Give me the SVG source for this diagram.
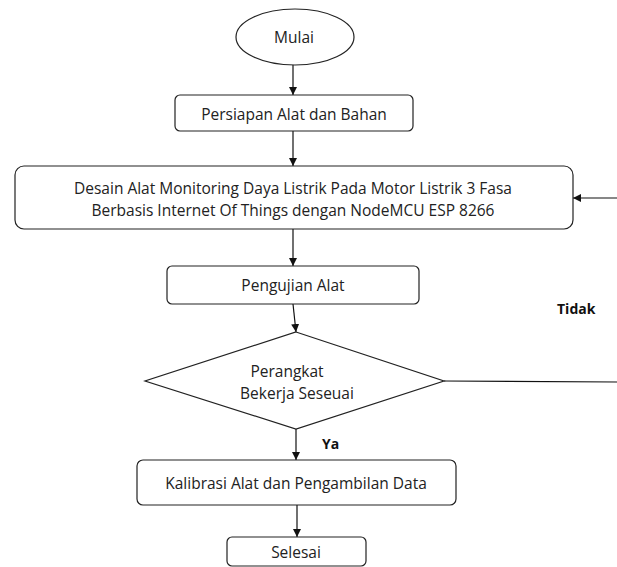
<svg xmlns="http://www.w3.org/2000/svg" width="617" height="567" viewBox="0 0 617 567">
<style>
.n{fill:#fff;stroke:#222;stroke-width:1.2}
.t{font-family:"Open Sans","Liberation Sans",Arial,sans-serif;font-size:15.5px;fill:#222;text-anchor:middle;dominant-baseline:central}
.b{font-family:"Open Sans","Liberation Sans",Arial,sans-serif;font-size:14px;font-weight:bold;fill:#111;dominant-baseline:central}
.c{fill:none;stroke:#111;stroke-width:1.2}
</style>
<defs>
<marker id="ah" viewBox="0 0 10 10" refX="10" refY="5" markerWidth="8" markerHeight="8" markerUnits="userSpaceOnUse" orient="auto">
<path d="M0,0 L10,5 L0,10 z" fill="#111"/>
</marker>
</defs>
<rect width="617" height="567" fill="#fff"/>
<g id="connectors">
<line class="c" x1="293" y1="65" x2="293" y2="95" marker-end="url(#ah)"/>
<line class="c" x1="293" y1="131" x2="293" y2="166" marker-end="url(#ah)"/>
<line class="c" x1="293" y1="229" x2="293" y2="266" marker-end="url(#ah)"/>
<line class="c" x1="293" y1="304" x2="296" y2="332" marker-end="url(#ah)"/>
<line class="c" x1="296" y1="429" x2="296" y2="460" marker-end="url(#ah)"/>
<line class="c" x1="297" y1="505" x2="297" y2="537" marker-end="url(#ah)"/>
<line class="c" x1="444" y1="381" x2="617" y2="382"/>
<line class="c" x1="617" y1="198" x2="573" y2="198" marker-end="url(#ah)"/>
<text class="b" x="557" y="308">Tidak</text>
<text class="b" x="322" y="443">Ya</text>
</g>
<g id="mulai">
<ellipse class="n" cx="295" cy="37" rx="59" ry="28"/>
<text class="t" x="294" y="37">Mulai</text>
</g>
<g id="persiapan">
<rect class="n" x="175" y="95" width="238" height="36" rx="5"/>
<text class="t" x="294" y="114">Persiapan Alat dan Bahan</text>
</g>
<g id="desain">
<rect class="n" x="15" y="166" width="558" height="63" rx="9"/>
<text class="t" x="293" y="188">Desain Alat Monitoring Daya Listrik Pada Motor Listrik 3 Fasa</text>
<text class="t" x="293" y="210">Berbasis Internet Of Things dengan NodeMCU ESP 8266</text>
</g>
<g id="pengujian">
<rect class="n" x="167" y="266" width="252" height="38" rx="5"/>
<text class="t" x="293" y="285">Pengujian Alat</text>
</g>
<g id="perangkat">
<polygon class="n" points="296,332 444,381 296,429 145,381"/>
<text class="t" x="287" y="371">Perangkat</text>
<text class="t" x="297" y="393">Bekerja Seseuai</text>
</g>
<g id="kalibrasi">
<rect class="n" x="137" y="460" width="319" height="45" rx="6"/>
<text class="t" x="296" y="483">Kalibrasi Alat dan Pengambilan Data</text>
</g>
<g id="selesai">
<rect class="n" x="227" y="537" width="139" height="29" rx="5"/>
<text class="t" x="296" y="552">Selesai</text>
</g>
</svg>
